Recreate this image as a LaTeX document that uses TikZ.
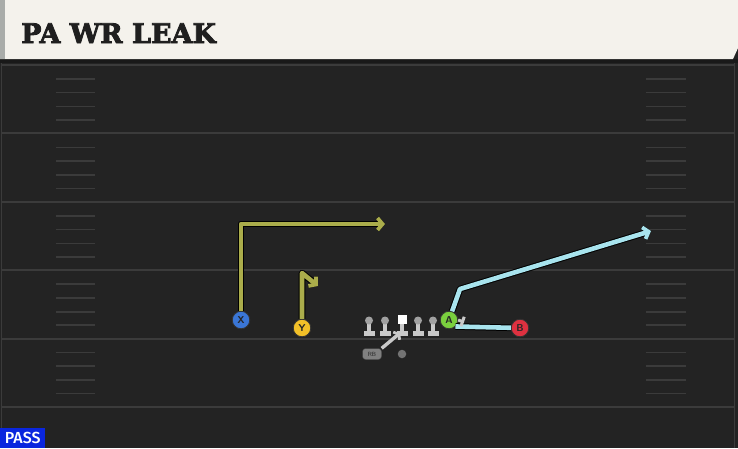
\documentclass[tikz,border=0pt]{standalone}
\usepackage{fontspec}
\usepackage{tikz}
\usetikzlibrary{arrows.meta}

\newfontfamily\titlefont[FakeBold=3]{DejaVu Serif Bold}
\newfontfamily\tagfont{Fira Sans Medium}

\definecolor{fieldbg}{HTML}{232323}
\definecolor{fieldline}{HTML}{3B3B3B}
\definecolor{titlebg}{HTML}{F4F2EC}
\definecolor{titleedge}{HTML}{A9ACA9}
\definecolor{routeolive}{HTML}{ABAD4B}
\definecolor{routecyan}{HTML}{A8E4EE}
\definecolor{xblue}{HTML}{3A76D6}
\definecolor{yyellow}{HTML}{F2C028}
\definecolor{agreen}{HTML}{7ACF3E}
\definecolor{bred}{HTML}{DE3140}
\definecolor{linegray}{HTML}{C9C9C9}
\definecolor{passblue}{HTML}{0A26DE}

\begin{document}
\begin{tikzpicture}[x=1pt,y=-1pt,
    player/.style={circle,draw=black!80,line width=0.8pt,minimum size=17.5pt,inner sep=0pt,
        font=\sffamily\bfseries\fontsize{10}{10}\selectfont,text=black!85},
    route/.style={line width=4.6pt,line join=round,
        preaction={draw=black,line width=6.6pt,line join=round}},
    tip/.style={-{Straight Barb[length=5pt,width=12pt,line width=3.8pt]}},
    hash/.style={fieldline,line width=1.6pt},
    yardline/.style={fieldline,line width=2pt}]
    \useasboundingbox (0,0) rectangle (738,448);

    % Field
    \fill[fieldbg] (0,0) rectangle (738,448);
    \fill[black!90] (0,59) rectangle (738,63);
    \draw[fieldline,line width=1.5pt] (1.5,63) -- (1.5,448);
    \draw[fieldline,line width=1.5pt] (734.5,63) -- (734.5,448);
    \foreach \yl in {0,...,5}
        \draw[yardline] (2,65+68.4*\yl) -- (734,65+68.4*\yl);
    \foreach \yl in {0,...,4}
        \foreach \h in {14,27.5,41.5,55} {
            \draw[hash] (56,65+68.4*\yl+\h) -- (95,65+68.4*\yl+\h);
            \draw[hash] (646,65+68.4*\yl+\h) -- (686,65+68.4*\yl+\h);
        }

    % Title bar
    \fill[titlebg] (0,0) -- (738,0) -- (738,48) -- (733,59) -- (0,59) -- cycle;
    \fill[titleedge] (0,0) rectangle (5,59);
    \node[anchor=base west,inner sep=0pt,text=black!88,
        font=\titlefont\fontsize{27}{27}\selectfont] (title) at (21,43) {PA WR LEAK};

    % Offensive line
    \foreach \lx in {369,385,418,433} {
        \fill[linegray] (\lx-2.2,320) rectangle (\lx+2.2,332);
        \fill[linegray] (\lx-5.5,330.5) rectangle (\lx+5.5,336);
        \fill[linegray!80!black] (\lx,320.5) circle (4);
    }
    \fill[linegray] (399.8,322) rectangle (404.2,332);
    \fill[linegray] (396.5,330.5) rectangle (407.5,336);
    \fill[white] (397.5,314.5) rectangle (406.5,323.5);

    % Backfield
    \node[rounded corners=3pt,fill=black!50,draw=black!75,minimum width=19pt,minimum height=11pt,
        inner sep=0pt,font=\sffamily\fontsize{6}{6}\selectfont,text=black!85] (rb) at (372,354) {RB};
    \node[circle,fill=black!55,minimum size=8.5pt,inner sep=0pt] (qb) at (402,354) {};
    \coordinate (fake) at (400,333);
    \draw[linegray,line width=3.4pt,-{Straight Barb[length=3pt,width=10pt,line width=2.8pt]}] (rb.north east) -- (fake);

    % Receivers
    \node[player,fill=xblue] (X) at (241,320) {X};
    \node[player,fill=yyellow] (Y) at (302,328) {Y};
    \node[player,fill=agreen] (A) at (449,320) {A};
    \node[player,fill=bred] (B) at (520,328) {B};

    % Routes
    \coordinate (xend) at (385,224);
    \draw[route,routeolive,tip] (X) |- (xend);
    \coordinate (ybreak) at (302,273);
    \coordinate (yend) at (318,286);
    \draw[route,routeolive,tip] (Y) -- (ybreak) -- (yend);
    \coordinate (abreak) at (460,289);
    \coordinate (aend) at (651,231);
    \draw[route,routecyan,tip] (A) -- (abreak) -- (aend);
    \draw[route,routecyan] (B) -- (A.south east);

    % Block
    \coordinate (ablock) at (464,322);
    \draw[linegray,line width=3pt,-{Bar[width=10pt,line width=3pt]}] (A.east) -- (ablock);

    % Play type
    \node[anchor=south west,fill=passblue,text=white,minimum width=45pt,minimum height=20pt,inner sep=0pt,
        font=\tagfont\fontsize{16}{16}\selectfont] (pass) at (0,448) {PASS};
\end{tikzpicture}
\end{document}
